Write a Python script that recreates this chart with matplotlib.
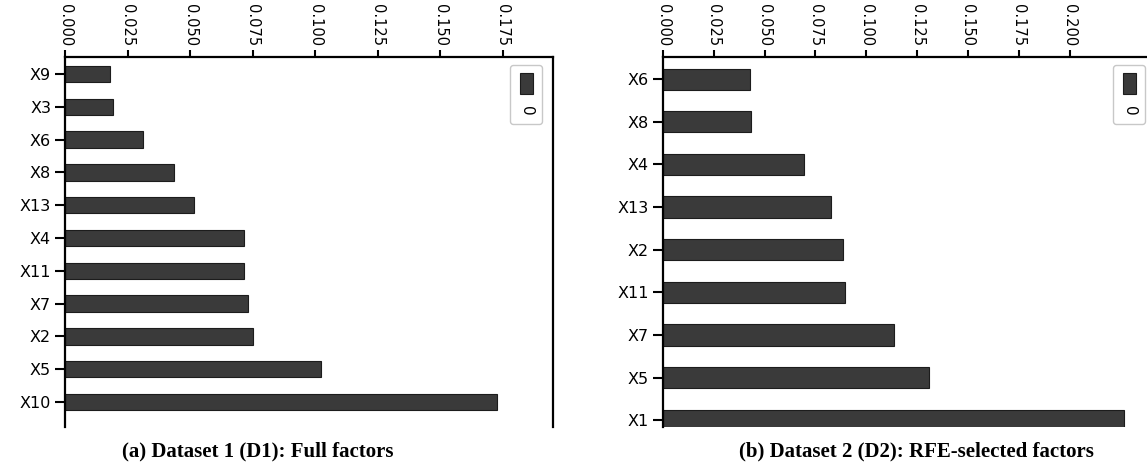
import matplotlib
matplotlib.use("Agg")
import matplotlib.pyplot as plt
from matplotlib.offsetbox import VPacker

# feature importances, top-to-bottom order as drawn
d1_factors = ["X9", "X3", "X6", "X8", "X13", "X4", "X11", "X7", "X2", "X5", "X10"]
d1_values = [0.0179, 0.0193, 0.0312, 0.0437, 0.0516, 0.0715, 0.0716, 0.0731, 0.0752, 0.1024, 0.1725]

d2_factors = ["X6", "X8", "X4", "X13", "X2", "X11", "X7", "X5", "X1"]
d2_values = [0.0428, 0.0435, 0.0692, 0.0826, 0.0887, 0.0895, 0.1136, 0.1307, 0.2268]

d1_ticks = [0.000, 0.025, 0.050, 0.075, 0.100, 0.125, 0.150, 0.175]
d2_ticks = [0.000, 0.025, 0.050, 0.075, 0.100, 0.125, 0.150, 0.175, 0.200]

captions = ["(a) Dataset 1 (D1): Full factors", "(b) Dataset 2 (D2): RFE-selected factors"]

W, H = 1147, 473
fig = plt.figure(figsize=(W / 100, H / 100), dpi=100)

bar_face = "#3a3a3a"
bar_edge = "#1c1c1c"


def vertical_legend(ax, w_px, h_px):
    leg = ax.legend(loc="upper right", bbox_to_anchor=(1 - 11 / w_px, 1 - 8 / h_px),
                    borderaxespad=0, handlelength=0.85, handleheight=1.65,
                    borderpad=0.55, fontsize=11, fancybox=True,
                    framealpha=1.0, edgecolor="#c8c8c8")
    txt = leg.get_texts()[0]
    txt.set_rotation(-90)
    # stack handle above label instead of side by side
    col = leg._legend_handle_box.get_children()[0]
    item = col.get_children()[0]
    col._children[0] = VPacker(children=item.get_children(), align="center", pad=0, sep=5)
    return leg


def draw_panel(rect, factors, values, ticks, xmax, ybottom):
    ax = fig.add_axes(rect)
    pos = list(range(len(factors)))
    ax.barh(pos, values, height=0.5, color=bar_face, edgecolor=bar_edge,
            linewidth=0.8, label="0")
    ax.set_yticks(pos)
    ax.set_yticklabels(factors, fontsize=11.5)
    ax.set_ylim(ybottom, -0.52)
    ax.set_xlim(0, xmax)
    ax.set_xticks(ticks)
    ax.set_xticklabels(["%.3f" % t for t in ticks], rotation=-90, fontsize=10.5)
    ax.xaxis.tick_top()
    ax.tick_params(axis="x", length=5, width=1.5, pad=3)
    ax.tick_params(axis="y", length=7, width=1.5, pad=3)
    for side in ["left", "top", "right"]:
        ax.spines[side].set_linewidth(1.6)
    ax.spines["bottom"].set_visible(False)
    vertical_legend(ax, rect[2] * W, rect[3] * H)
    return ax


top = 1 - 57 / H
bottom = 1 - 427 / H
draw_panel([65 / W, bottom, 488 / W, top - bottom], d1_factors, d1_values, d1_ticks, 0.195, 10.76)
draw_panel([663 / W, bottom, 493 / W, top - bottom], d2_factors, d2_values, d2_ticks, 0.2425, 8.16)

fig.text(258 / W, 1 - 451 / H, captions[0], ha="center", va="center",
         family="Liberation Serif", weight="bold", fontsize=15)
fig.text(916 / W, 1 - 451 / H, captions[1], ha="center", va="center",
         family="Liberation Serif", weight="bold", fontsize=15)

fig.savefig("out.png", dpi=100)
